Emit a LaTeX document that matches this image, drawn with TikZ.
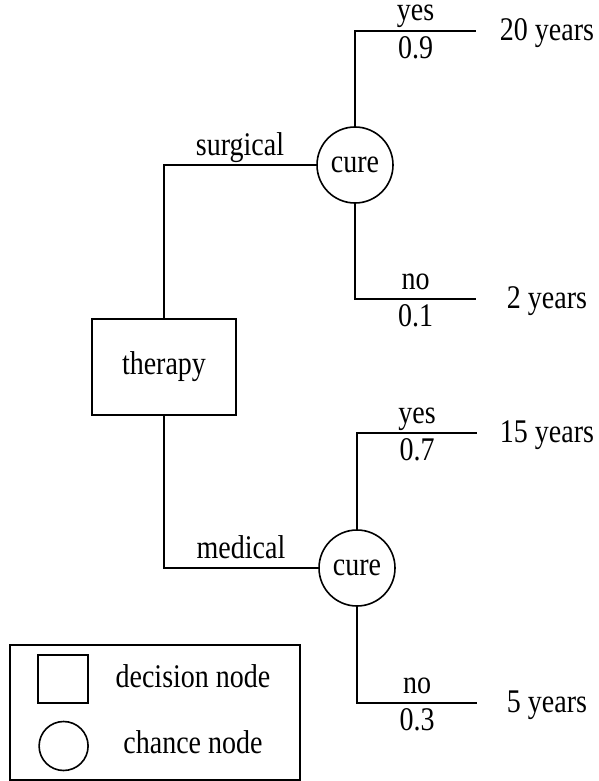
\documentclass[tikz,border=0pt]{standalone}
\usepackage{fontspec}
\setmainfont{Liberation Serif}
\newcommand{\vs}[1]{\scalebox{1}[1.18]{#1}}
\begin{document}
\begin{tikzpicture}[x=1pt,y=-1pt,
  every node/.style={font=\fontsize{28}{32}\selectfont},
  line/.style={line width=1.6pt},
  decision/.style={draw,line width=1.6pt,rectangle,inner sep=0pt},
  chance/.style={draw,line width=1.6pt,circle,inner sep=0pt,minimum size=76pt},
  lab/.style={anchor=base,inner sep=0pt},
]
\useasboundingbox (0,0) rectangle (598,781);

% tree nodes
\node[decision,minimum width=144pt,minimum height=96pt] (therapy) at (164,367) {\vs{therapy}};
\node[chance] (cure1) at (355,165) {\vs{cure}};
\node[chance] (cure2) at (357,568) {\vs{cure}};

% branch ends
\coordinate (e1) at (476,31);
\coordinate (e2) at (476,299);
\coordinate (e3) at (477,433);
\coordinate (e4) at (477,703);

% connectors
\draw[line] (therapy.north) |- (cure1.west);
\draw[line] (therapy.south) |- (cure2.west);
\draw[line] (cure1.north) |- (e1);
\draw[line] (cure1.south) |- (e2);
\draw[line] (cure2.north) |- (e3);
\draw[line] (cure2.south) |- (e4);

% branch labels
\node[lab] (lsurg) at (240,155) {\vs{surgical}};
\node[lab] (lmed) at (241,558) {\vs{medical}};
\node[lab] (ly1) at (415.5,21) {\vs{yes}};
\node[lab] (lp1) at (415.5,58.5) {\vs{0.9}};
\node[lab] (ln1) at (415.5,289) {\vs{no}};
\node[lab] (lp2) at (415.5,326.5) {\vs{0.1}};
\node[lab] (ly2) at (417,423) {\vs{yes}};
\node[lab] (lp3) at (417,460.5) {\vs{0.7}};
\node[lab] (ln2) at (417,693) {\vs{no}};
\node[lab] (lp4) at (417,730.5) {\vs{0.3}};

% outcomes
\node[lab] (o1) at (547,40.5) {\vs{20 years}};
\node[lab] (o2) at (547,308.5) {\vs{2 years}};
\node[lab] (o3) at (547,442.5) {\vs{15 years}};
\node[lab] (o4) at (547,712.5) {\vs{5 years}};

% legend
\node[draw,line width=1.6pt,minimum width=290pt,minimum height=135pt,inner sep=0pt] (legend) at (155,712.5) {};
\node[decision,minimum width=50pt,minimum height=48pt] (lsq) at (63,679) {};
\node[chance,minimum size=49pt] (lci) at (63.6,746) {};
\node[lab] (ldec) at (193,687) {\vs{decision node}};
\node[lab] (lcha) at (193,753) {\vs{chance node}};
\end{tikzpicture}
\end{document}
